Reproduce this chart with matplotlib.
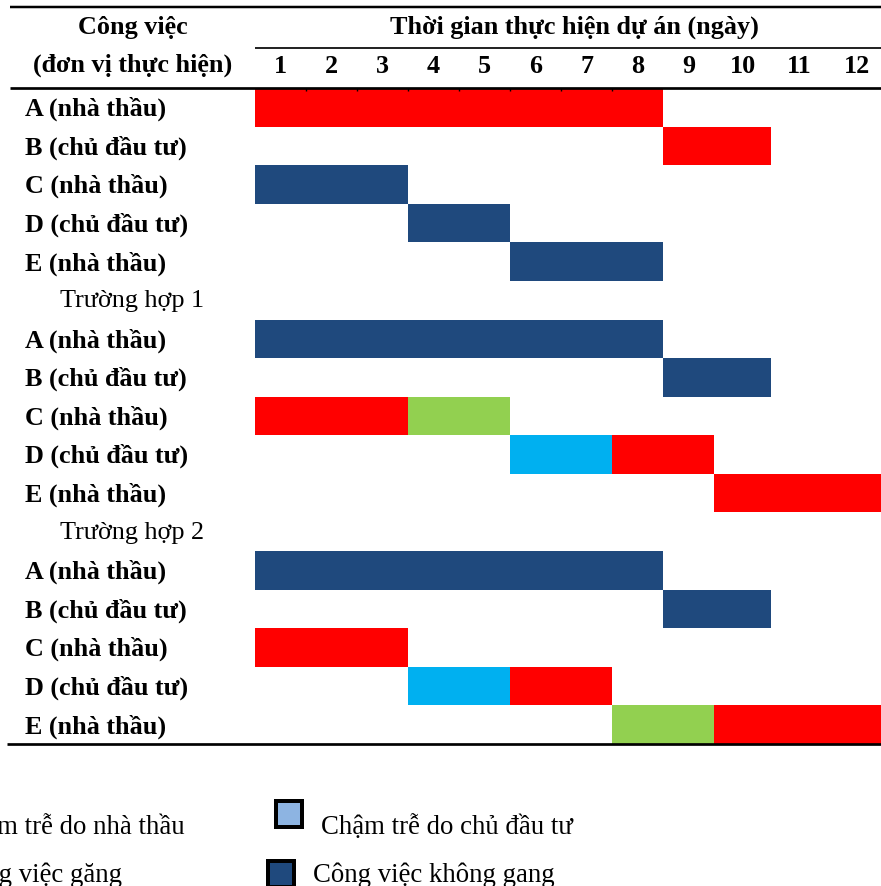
import numpy as np
import matplotlib
matplotlib.use("Agg")
import matplotlib.pyplot as plt
from matplotlib.lines import Line2D
from matplotlib.patches import Rectangle
import matplotlib.transforms as mtransforms

plt.rcParams['font.family'] = ['Liberation Serif', 'DejaVu Serif']

# ---------------- data ----------------
days = list(range(1, 13))
task_labels = ["A (nhà thầu)", "B (chủ đầu tư)", "C (nhà thầu)", "D (chủ đầu tư)", "E (nhà thầu)"]
case_labels = ["Trường hợp 1", "Trường hợp 2"]

base_task = [0, 1, 2, 3, 4]
base_start = [0, 8, 0, 3, 5]
base_dur = [8, 2, 3, 2, 3]
base_kind = ["red", "red", "navy", "navy", "navy"]

case1_task = [0, 1, 2, 2, 3, 3, 4]
case1_start = [0, 8, 0, 3, 5, 7, 9]
case1_dur = [8, 2, 3, 2, 2, 2, 3]
case1_kind = ["navy", "navy", "red", "green", "cyan", "red", "red"]

case2_task = [0, 1, 2, 3, 3, 4, 4]
case2_start = [0, 8, 0, 3, 5, 7, 9]
case2_dur = [8, 2, 3, 2, 2, 2, 3]
case2_kind = ["navy", "navy", "red", "cyan", "red", "green", "red"]

header_left = ["Công việc", "(đơn vị thực hiện)"]
header_right = "Thời gian thực hiện dự án (ngày)"
legend_labels = ["Chậm trễ do nhà thầu", "Công việc găng", "Chậm trễ do chủ đầu tư", "Công việc không gang"]

colors = {"red": "#FF0000", "navy": "#1F497D", "green": "#92D050", "cyan": "#00B0F0"}
legend_fill = ["#FF0000", "#FF0000", "#8DB4E2", "#1F497D"]

# ---------------- figure ----------------
W, H = 881, 886
fig = plt.figure(figsize=(W / 100, H / 100), dpi=100)

def fx(x):
    return x / W

def fy(y):
    return 1 - y / H

ax = fig.add_axes([fx(255), fy(744), (885 - 255) / W, (744 - 88) / H])

def fwd(x):
    return np.interp(x, [0, 9, 12], [0, 459, 630])

def inv(p):
    return np.interp(p, [0, 459, 630], [0, 9, 12])

ax.set_xscale('function', functions=(fwd, inv))
ax.set_xlim(0, 12)
ax.set_ylim(17, 0)
for s in ax.spines.values():
    s.set_visible(False)
ax.set_yticks([])
ax.xaxis.tick_top()
ax.set_xticks([1, 2, 3, 4, 5, 6, 7])
ax.set_xticklabels([])
ax.tick_params(axis='x', direction='in', length=2, width=1, color='black')

blocks = [
    (0, base_task, base_start, base_dur, base_kind),
    (6, case1_task, case1_start, case1_dur, case1_kind),
    (12, case2_task, case2_start, case2_dur, case2_kind),
]
for off, tasks, starts, durs, kinds in blocks:
    for t, s, d, k in zip(tasks, starts, durs, kinds):
        ax.barh(off + t + 0.5, d, left=s, height=1.0, color=colors[k],
                linewidth=0, antialiased=False, zorder=1)

# row labels
trans_lbl = mtransforms.blended_transform_factory(fig.transFigure, ax.transData)
fs = 18.8
for off in (0, 6, 12):
    for i, lab in enumerate(task_labels):
        ax.text(fx(25), off + i + 0.72, lab, transform=trans_lbl, ha='left',
                va='baseline', fontsize=fs, fontweight='bold', clip_on=False)
for j, lab in enumerate(case_labels):
    ax.text(fx(60), 5 + 6 * j + 0.68, lab, transform=trans_lbl, ha='left',
            va='baseline', fontsize=fs, clip_on=False)

# header
fig.text(fx(133), fy(34), header_left[0], ha='center', va='baseline', fontsize=fs, fontweight='bold')
fig.text(fx(133), fy(72), header_left[1], ha='center', va='baseline', fontsize=fs, fontweight='bold')
fig.text(fx(574), fy(34), header_right, ha='center', va='baseline', fontsize=fs, fontweight='bold')
trans_day = mtransforms.blended_transform_factory(ax.transData, fig.transFigure)
for d in days:
    ax.text(d - 0.5, fy(73), str(d), transform=trans_day, ha='center', va='baseline',
            fontsize=fs, fontweight='bold', clip_on=False)

# rules
def hline(y, x0, x1, lw_px):
    fig.add_artist(Line2D([fx(x0), fx(x1)], [fy(y), fy(y)], transform=fig.transFigure,
                          color='black', linewidth=lw_px * 0.72, solid_capstyle='butt'))

hline(7.2, 10, 881, 2.5)
hline(47.8, 255, 881, 1.7)
hline(88, 10, 881, 2.7)
hline(744, 7, 881, 2.7)

# legend
lfs = 19.3
fig.text(fx(185), fy(834), legend_labels[0], ha='right', va='baseline', fontsize=lfs)
fig.text(fx(122), fy(882), legend_labels[1], ha='right', va='baseline', fontsize=lfs)
fig.text(fx(321), fy(834), legend_labels[2], ha='left', va='baseline', fontsize=lfs)
fig.text(fx(313), fy(882), legend_labels[3], ha='left', va='baseline', fontsize=lfs)

def marker(x0, y0, size, fill):
    fig.add_artist(Rectangle((fx(x0), fy(y0 + size)), size / W, size / H,
                             transform=fig.transFigure, facecolor=fill,
                             edgecolor='black', linewidth=4 * 0.72))

marker(276, 801, 26, legend_fill[2])
marker(268, 861, 26, legend_fill[3])

fig.savefig("out.png", dpi=100)
